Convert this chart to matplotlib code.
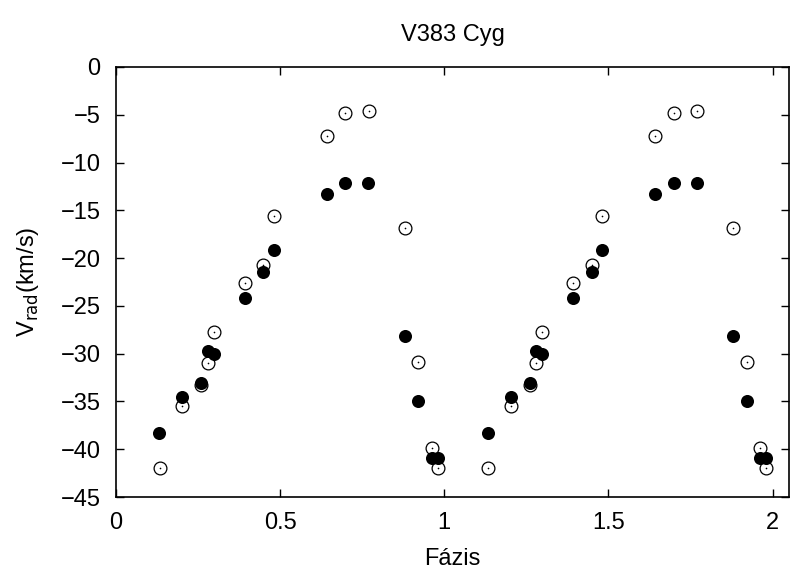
import numpy as np
import matplotlib.pyplot as plt

plt.rcParams['font.family'] = ['Liberation Sans', 'DejaVu Sans']

# phase, radial velocity (km/s)
phase_filled = [0.132, 0.202, 0.260, 0.280, 0.299, 0.393, 0.449, 0.480,
                0.642, 0.699, 0.769, 0.881, 0.921, 0.962, 0.981]
vrad_filled = [-38.3, -34.5, -33.1, -29.7, -30.0, -24.2, -21.5, -19.1,
               -13.3, -12.1, -12.1, -28.1, -34.9, -40.9, -40.9]

phase_open = [0.133, 0.202, 0.260, 0.280, 0.299, 0.393, 0.449, 0.480,
              0.642, 0.699, 0.770, 0.881, 0.921, 0.962, 0.981]
vrad_open = [-42.0, -35.5, -33.3, -31.0, -27.7, -22.6, -20.7, -15.6,
             -7.2, -4.8, -4.6, -16.9, -30.9, -39.9, -42.0]

# two cycles
pf = np.concatenate([phase_filled, np.array(phase_filled) + 1])
vf = np.concatenate([vrad_filled, vrad_filled])
po = np.concatenate([phase_open, np.array(phase_open) + 1])
vo = np.concatenate([vrad_open, vrad_open])

fig = plt.figure(figsize=(8.04, 5.74), dpi=100)
ax = fig.add_axes([0.1443, 0.1341, 0.837, 0.7492])

ax.plot(po, vo, 'o', ms=9.2, mfc='white', mec='black', mew=0.9, ls='none')
ax.plot(po, vo, 'o', ms=1.2, mfc='black', mec='black', mew=0, ls='none')
ax.plot(pf, vf, 'o', ms=9.4, mfc='black', mec='black', mew=0, ls='none')

ax.set_xlim(0, 2.05)
ax.set_ylim(-45, 0)
ax.set_xticks([0, 0.5, 1, 1.5, 2])
ax.set_xticklabels(['0', '0.5', '1', '1.5', '2'])
ax.set_yticks(range(-45, 1, 5))
ax.tick_params(direction='in', top=True, right=True, length=6, width=1,
               labelsize=17, pad=11)
for s in ax.spines.values():
    s.set_linewidth(1.2)

ax.set_title('V383 Cyg', fontsize=17, pad=19)
ax.set_xlabel('Fázis', fontsize=17, labelpad=10)
ax.set_ylabel(r'V$_{\rm rad}$(km/s)', fontsize=17, labelpad=14)

fig.savefig('out.png', dpi=100)
